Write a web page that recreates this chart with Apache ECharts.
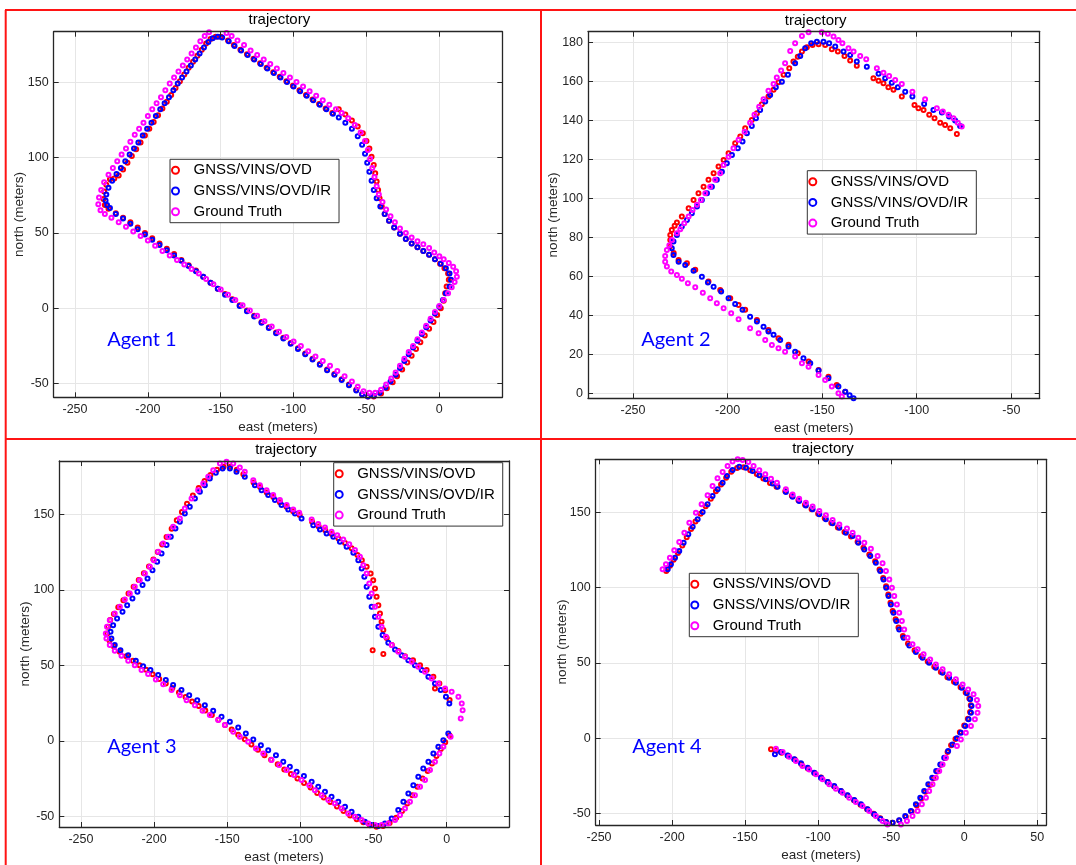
<!DOCTYPE html>
<html><head><meta charset="utf-8">
<script src="https://cdn.jsdelivr.net/npm/echarts@6/dist/echarts.min.js"></script>
<style>html,body{margin:0;padding:0;background:#fff}#c{width:1076px;height:865px}</style>
</head><body><div id="c"></div>
<script>
const seriesNames = ['GNSS/VINS/OVD', 'GNSS/VINS/OVD/IR', 'Ground Truth'];
const agentNames = ['Agent 1', 'Agent 2', 'Agent 3', 'Agent 4'];
const titleText = 'trajectory';
const xName = 'east (meters)';
const yName = 'north (meters)';

const xTicks1 = [-250, -200, -150, -100, -50, 0];
const yTicks1 = [-50, 0, 50, 100, 150];
const xTicks2 = [-250, -200, -150, -100, -50];
const yTicks2 = [0, 20, 40, 60, 80, 100, 120, 140, 160, 180];
const xTicks3 = [-250, -200, -150, -100, -50, 0];
const yTicks3 = [-50, 0, 50, 100, 150];
const xTicks4 = [-250, -200, -150, -100, -50, 0, 50];
const yTicks4 = [-50, 0, 50, 100, 150];

// ---------- Agent 1 ----------
const a1_ovd = [[-150,180],[-153.5,180],[-157,178.5],[-160,175.5],[-163,171.5],[-166,167.5],[-169,163.5],[-172,159.5],[-175,155],[-178,150.5],[-181,146],[-184,141.5],[-187,137],[-190,132.5],[-193,128],[-196,123.5],[-199,119],[-202,114.5],[-205,110],[-208,105.5],[-211,101],[-214,96.5],[-217,92],[-220,88],[-223,86],[-226,85.5],[-228.5,82],[-230,77.5],[-230.5,72.5],[-229.5,68.5],[-227,66],
[-222,63],[-217,60],[-212,57],[-207,53.5],[-202,50],[-197,46.5],[-192,43],[-187,39.5],[-182,36],[-177,32],[-172,28.5],[-167,25],[-162,21],[-157,17],[-152,13],[-147,9.5],[-142,6],[-137,2],[-132,-1.5],[-127,-5],[-122,-9],[-117,-12.5],[-112,-16],[-107,-19.5],[-102,-23],[-97,-26.5],[-92,-30],[-87,-33.5],[-82,-37],[-77,-40.5],[-72,-43.5],[-67,-47],[-62,-50.5],[-57,-54],[-53,-57],[-49,-58.5],[-45,-58.5],
[-40,-56.5],[-36,-53],[-32,-49],[-29,-45],[-25.5,-40.5],[-22,-36],[-19,-31.5],[-16,-27],[-13,-22.5],[-10,-18],[-7,-13.5],[-4,-9],[-1.5,-4.5],[1,0],[3,5],[4,10],[5,14.5],[6.5,19],[6,23],[3.5,26.5],[0.5,29.5],[-3,32.5],
[-7,35.5],[-11,38],[-15,40.5],[-19,43],[-23,46],[-27,49.5],[-31,53.5],[-34.5,58],[-37.5,62.5],[-39.5,67.5],[-41,73],[-42,78.5],[-43,84],[-44,89.5],[-45,95],[-46.5,100.5],[-48,106],[-50,111],[-52.5,116],[-56,120.5],[-60,124.5],[-64.5,128.5],[-69,132],
[-73.5,129.5],[-78,132.5],[-82.5,135.5],[-87,138.5],[-91.5,141.5],[-96,144.5],[-100.5,147.5],[-105,150.5],[-109.5,153.5],[-114,156.5],[-118.5,159.5],[-123,162.5],[-127.5,165.5],[-132,168.5],[-136.5,171.5],[-141,174.5],[-145,177.5]];
const a1_ir = [[-149,179.5],[-152,180],[-155.5,179],[-158.5,176.5],[-161.5,173],[-164.5,169],[-167.5,165],[-170.5,161],[-173.5,157],[-176.5,153],[-179.5,149],[-182.5,144.5],[-185.5,140],[-188.5,136],[-191.5,132],[-194.5,127.5],[-197.5,123],[-200.5,119],[-203.5,114.5],[-206.5,110],[-209.5,106],[-212.5,102],[-215.5,97.5],[-218.5,93],[-221.5,89],[-224.5,84.5],[-227,80],[-228.5,75.5],[-229,71.5],[-228,68.5],[-226,66.5],
[-222,62.5],[-217,59.5],[-212,56],[-207,52.5],[-202,49],[-197,45.5],[-192,42],[-187,38.5],[-182,35],[-177,31.5],[-172,28],[-167,24.5],[-162,21],[-157,17],[-152,13],[-147,9],[-142,5.5],[-137,1.5],[-132,-2],[-127,-5.5],[-122,-9.5],[-117,-13],[-112,-16.5],[-107,-20],[-102,-23.5],[-97,-27],[-92,-30.5],[-87,-34],[-82,-37.5],[-77,-41],[-72,-44],[-67,-47.5],[-62,-51],[-57,-54.5],[-53,-57],[-49,-58.5],[-45,-58],
[-41,-56],[-37,-52.5],[-33.5,-48.5],[-30,-44],[-27,-39.5],[-24,-35],[-21,-30.5],[-18,-26],[-15,-21.5],[-12,-17],[-9,-12.5],[-6,-8],[-3,-3.5],[0,1],[2.5,5.5],[4.5,10],[7,14.5],[8,19],[7,23],[4.5,26.5],[1,29.5],[-3,32.5],
[-7,35.5],[-11,38],[-15,40.5],[-19,43],[-23,46],[-27,49.5],[-31,53.5],[-34.5,58],[-37.5,62.5],[-40.5,67.5],[-43,73],[-45,78.5],[-46.5,84.5],[-48,90.5],[-49.5,96.5],[-51,102.5],[-53,108.5],[-56,114],[-60,119],[-64.5,123],[-69,126.5],
[-73,129],[-77.5,132],[-82,135],[-86.5,138],[-91,141],[-95.5,144],[-100,147],[-104.5,150],[-109,153],[-113.5,156],[-118,159],[-122.5,162],[-127,165],[-131.5,168],[-136,171],[-140.5,174],[-144.5,177]];
const a1_gt = [[-146,182.5],[-150,184],[-154,184.5],[-158,183],[-161,180.5],[-164,177],[-167,173],[-170,169],[-173,165],[-176,161],[-179,157],[-182,153],[-185,149],[-188,144.5],[-191,140],[-194,136],[-197,132],[-200,127.5],[-203,123],[-206,119],[-209,115],[-212,110.5],[-215,106],[-218,102],[-221,97.5],[-224,93],[-227,88.5],[-230,83.5],[-232,78.5],[-233.5,73.5],[-234,69],[-232.5,65],[-229.5,62.5],
[-225,60],[-220,57],[-215,54],[-210,51],[-205,48],[-200,45],[-195,41.5],[-190,38],[-185,35],[-180,32],[-175,29],[-170,26],[-165,23],[-160,19.5],[-155,16],[-150,12.5],[-145,9],[-140,5.5],[-135,2],[-130,-1.5],[-125,-5],[-120,-8.5],[-115,-12],[-110,-15.5],[-105,-19],[-100,-22],[-95,-25],[-90,-28.5],[-85,-32],[-80,-35],[-75,-38],[-70,-41.5],[-65,-45],[-60,-48.5],[-56,-52],[-52,-55],[-48,-56],[-44,-56],
[-40,-54],[-36.5,-50.5],[-33,-46.5],[-30,-42.5],[-27,-38],[-24,-33.5],[-21,-29],[-18,-25],[-15,-20.5],[-12,-16],[-9,-11.5],[-6,-7],[-3,-2.5],[0,1.5],[3,5.5],[6,10],[8.5,14],[10.5,17.5],[12,21],[11.5,24.5],[9.5,27.5],[6.5,30],[3,32.5],[0,34.5],
[-3.5,37],[-7,40],[-11,42.5],[-15,44.5],[-19,47],[-23,50],[-27,53],[-30.5,57],[-33.5,61],[-36.5,65.5],[-39,70.5],[-41.5,75.5],[-43,81],[-44.5,87],[-46,93],[-47.5,99],[-49,105],[-51,111],[-54,116.5],[-58,121.5],[-62.5,126],[-67,129.5],
[-71,132],[-75.5,135],[-80,138],[-84.5,141],[-89,144],[-93.5,147],[-98,150],[-102.5,153],[-107,156],[-111.5,159],[-116,162],[-120.5,165],[-125,168],[-129.5,171],[-134,174.5],[-138.5,177.5],[-142.5,180.5]];

// ---------- Agent 2 ----------
const a2_ovd = [[-137.8,1],[-142.3,4.4],[-146.7,8.7],[-151.9,12.1],[-157.2,16.4],[-162.9,20.7],[-167.8,25],[-173.1,28.3],[-178.4,32.6],[-184.5,37.7],[-190.7,42.9],[-194.2,45.4],[-198.6,48.8],[-203.9,53.1],[-210.1,57.4],[-217.1,63.4],[-221.5,66.8],[-225.9,68.5],[-228.5,72],[-230.5,75.3],[-230.3,78.7],[-230.3,81.3],[-229.5,83.8],[-228,86],[-226.8,87.6],
[-224.2,90.7],[-220.6,94.9],[-218,99.2],[-215.4,102.6],[-212.7,106],[-210.1,109.5],[-207.4,112.9],[-204.8,116.3],[-202.1,119.7],[-199.5,123.1],[-196,128.2],[-193.3,131.7],[-190.7,135.9],[-187.2,140.2],[-184.5,143.6],[-181.9,148.2],[-178.4,152.2],[-175.7,155.6],[-173.1,159.5],[-170.4,163.3],[-167.4,166.7],[-165.2,170.1],[-162.9,172.6],[-160.7,175.2],[-158.1,177.4],[-155.1,178.6],[-151.9,179],[-148.4,178.6],[-144.9,176.4],[-141.7,175.2],[-138.2,173],[-135.2,170.6],[-131.7,167.9],
[-122.9,161.5],[-120.2,160.3],[-117.6,159],[-115,156.9],[-112.3,155.6],[-107.9,152.2],
[-101.2,147.9],[-99.1,146.2],[-96.4,145.3],[-93.4,142.8],[-90.6,141.1],[-87.6,138.8],[-85,137.6],[-82.3,135.9],[-78.8,133]];
const a2_ir = [[-133.4,-2.4],[-135.5,-0.8],[-137.8,1],[-141.4,3.6],[-146.7,7.9],[-151.9,11.8],[-156.3,15.5],[-159.9,18.1],[-164.3,21.5],[-167.8,24.1],[-172.2,27.5],[-175.7,30.1],[-178.4,31.8],[-181,34.3],[-184.5,36.9],[-188.1,39.4],[-192.1,42.9],[-196,45.9],[-199.5,48.8],[-203.4,52.3],[-207.4,54.8],[-210.4,56.9],[-213.6,59.9],[-218,63],[-222.4,65.9],[-225.9,67.6],[-228.6,71],[-229.5,74.5],[-228.6,77.9],[-226.8,81.3],
[-224.2,85.6],[-221.5,89],[-218.9,92.4],[-216.2,95.8],[-213.6,99.2],[-210.9,102.6],[-208.3,106],[-205.7,109.5],[-203,113.7],[-200.4,118],[-197.7,122.3],[-194.6,125.7],[-192.1,129.1],[-189.8,133.4],[-187.2,137.1],[-185,141.1],[-182.8,145.3],[-180.1,149.6],[-177.5,153],[-174.5,156.9],[-171.3,159.8],[-168.1,163.3],[-164.3,169.2],[-161.6,173],[-159,176.9],[-155.8,179.5],[-152.8,180.3],[-149.3,180.3],[-146.3,179.5],[-143.1,177.8],[-138.7,175.2],[-135.2,173.5],[-131.7,170.1],[-126.4,167.5],
[-120.2,163.8],[-116.7,161.5],[-113.2,159.3],[-110,156.9],[-106.1,154.7],[-102.3,152.2],[-96.1,148.4],[-91.2,145.3],[-86.7,144],[-82.9,141.9],[-79.7,139.9],[-77.1,137.1]];
const a2_gt = [[-139.6,-1.5],[-141.4,0.2],[-144.9,3.6],[-148.4,7],[-151.9,9.6],[-157.2,13.8],[-160.7,15.5],[-164.3,19],[-169.6,21.5],[-173.1,23.2],[-176.6,24.9],[-180.1,27.5],[-183.6,30.9],[-188.1,33.5],[-194.2,38.1],[-198.1,41.2],[-202.1,43.7],[-205.7,46.3],[-209.2,48.8],[-213.1,51.7],[-217.1,54.5],[-221,56.5],[-224.2,58.9],[-226.8,60.8],[-229.8,62.5],[-232.1,65.1],[-233,67.6],[-233,70.5],[-232.1,73.6],[-230.8,76],
[-229.5,78.7],[-226.8,82.1],[-225,84.2],[-222.9,87.3],[-220.6,90.7],[-218.5,94.1],[-216.2,96.7],[-214.1,99.2],[-211.8,102.6],[-209.2,106],[-206.6,109.5],[-203.9,112.9],[-202.1,117.1],[-199.5,121.4],[-196.9,125.7],[-194.2,130],[-191,134.2],[-188.1,138.8],[-185.8,142.8],[-183.3,147],[-181,150.8],[-178.4,155.2],[-175.7,158.6],[-174,162],[-171.7,165.5],[-169.6,169.2],[-166.9,175.5],[-164.3,179.5],[-160.7,183.2],[-157.2,185.1],[-154.1,185.5],[-150.2,185.1],[-147,184.3],[-144,182.9],[-141.4,181.2],[-139.3,179.5],[-136.1,176.9],[-133.4,175.2],[-129.9,173],[-126.7,171.3],
[-121.1,166.7],[-117.6,164.4],[-114.6,162.7],[-111.4,160.7],[-107.9,158.6],[-102.3,154.7],[-95.6,150.8],[-89.4,146.2],[-86.2,144.5],[-83.2,142.8],[-80.6,141.1],[-78.3,138.8],[-76.2,136.8]];

// ---------- Agent 3 ----------
const a3_ovd = [[2,3.5],[-1,-1],[-4,-5.5],[-7,-10],[-10,-15],[-13,-20],[-16.5,-25],[-20,-30.5],[-23.5,-36],[-27,-41.5],[-30.5,-46.5],[-34.5,-51],[-39,-54.5],[-43.5,-56.5],[-48,-57],[-52.5,-56],[-57,-54],
[-61.5,-52],[-66,-49.5],[-70.5,-46.5],[-75,-43.5],[-79.5,-40.5],[-84,-37.5],[-88.5,-34.5],[-93,-31],[-97.5,-28],[-102,-25],[-106.5,-22],[-111,-19],[-115.5,-15.5],[-120,-12.5],[-124.5,-9.5],[-129,-6],[-133.5,-2.5],[-138,1],[-142.5,4],[-147,7.5],[-151.5,10.5],[-156,14],[-160.5,17],[-165,20],[-169.5,23],[-174,26],[-178.5,29],[-183,32],[-187.5,35],[-192,38],[-196.5,41],[-201,44],[-205.5,47],[-210,50],[-214.5,53],[-219,56],[-223.5,59],[-227.5,62.5],[-230.5,66.5],[-232,71],[-231.5,75.5],[-230,80],
[-227.5,84],[-224.5,88.5],[-221,93],[-217.5,97.5],[-214,102],[-210.5,106.5],[-207,111],[-203.5,115.5],[-200.5,120],[-197.5,125],[-194.5,130],[-191.5,135],[-188,140.5],[-184.5,146],[-181,151.5],[-177.5,157],[-173.5,162.5],[-169.5,167.5],[-165.5,172],[-161.5,176],[-157,179.5],[-152.5,181.5],[-148,181.5],[-143.5,179.5],[-139,176.5],
[-132,171],[-127.5,168],[-123,164.5],[-118.5,161.5],[-114,158],[-109.5,155],[-105,152],[-100.5,149.5],[-92,145],[-87.5,142],[-83,139.5],[-78.5,137],[-74,134],[-69.5,131],[-65,127.5],[-61,123],[-58,119.5],[-54.7,115.2],[-52,110.8],[-50.2,106.4],[-49,100.9],[-47.9,95.4],[-46.7,89.8],[-45.6,84.3],[-44.5,78.8],[-43.3,73.3],[-41,68],[-37.5,63.5],[-50.6,60],[-43.3,57.4],[-33,59.5],[-28.5,56],[-23,53.4],[-18.2,50.1],[-13.7,46.8],[-9.1,42.4],[-5,38],[-8,34.7],[-1,33.5],[2,27]];
const a3_ir = [[1.1,4.9],[-2.3,0.4],[-5.7,-4],[-9.1,-8.4],[-12.5,-13.9],[-16,-18.3],[-19.4,-23.8],[-22.8,-29.4],[-26.2,-34.9],[-29.6,-40.4],[-33.1,-45.9],[-37.6,-51.4],[-42.2,-54.7],[-46.7,-56.5],[-51.3,-55.8],[-55.9,-53.6],
[-60.4,-50.3],[-65,-47],[-69.5,-43.7],[-74.1,-40.4],[-78.7,-37.1],[-83.2,-33.8],[-87.8,-30.5],[-92.3,-27.2],[-97.6,-23.4],[-102.6,-20.5],[-107.2,-17.2],[-111.7,-13.9],[-116.7,-9.5],[-122,-6.2],[-127,-2.9],[-132.2,0.9],[-137.3,4.9],[-142.5,8.8],[-148.2,12.6],[-153.9,15.9],[-159.6,19.9],[-165.3,23.6],[-170.5,26.9],[-176,30.2],[-181.3,33.6],[-187,36.9],[-192,40.2],[-197.2,43.5],[-202.5,46.8],[-207.5,49.4],[-212.5,53],[-217.7,56.7],[-223,60],[-226.9,63.4],[-229.2,67.8],[-229.8,72.2],[-228,76.6],[-225.3,81],
[-221.6,85.4],[-218.4,89.8],[-214.8,94.3],[-211.4,98.7],[-207.9,103.1],[-204.5,107.5],[-201.1,113],[-197.9,118.5],[-194.9,124.1],[-191.5,129.6],[-188.6,135.1],[-185.4,140.6],[-182.4,145],[-179,150.6],[-175.6,155],[-172.1,160.5],[-168.7,164.9],[-165.3,169.3],[-161.9,173.7],[-157.8,177.5],[-153.2,180.4],[-148.2,180.4],[-143.7,178.1],[-138,174.8],
[-131.1,169.3],[-126.5,166],[-122,162.7],[-117.4,159.4],[-112.9,156.1],[-108.3,153.2],[-103.7,150.6],[-99.2,147.2],
[-91.2,142.8],[-86.6,140],[-82.1,137.3],[-77.5,135.1],[-73,131.8],[-68.4,128.5],[-63.8,124.5],[-60.4,119.6],[-58.1,114.1],[-56.3,108.6],[-54.7,102],[-52.9,95.4],[-51.3,88.7],[-49,82.1],[-46.7,75.5],[-43.8,70],[-39.9,64.9],[-35.3,60.5],[-30.8,56.7],[-26.2,53.4],[-21.7,50.1],[-17.1,46.8],[-12.5,42.4],[-8,38],[-4.1,33.6],[-0.5,29.1],[1.8,24.7]];
const a3_gt = [[2.7,2.6],[-2.3,-4],[-5,-8.4],[-8,-13.9],[-11.4,-19.4],[-14.8,-26],[-18.2,-30.5],[-21.7,-36],[-25.1,-40.4],[-28.5,-44.8],[-31.9,-49.2],[-35.3,-52.5],[-39.9,-54.7],[-44.5,-55.8],[-49,-55.8],[-53.6,-54.7],[-58.1,-52.5],[-62.7,-50.3],[-67.3,-48.1],[-71.8,-44.8],[-76.4,-41.5],[-80.9,-39.3],[-85.5,-36],[-90.1,-32.7],[-93.9,-29.4],[-99.2,-26],[-104.4,-22.7],[-109.4,-19.4],[-114.5,-16.1],[-119.7,-12.8],[-125.4,-8.4],[-130.4,-5.1],[-135.7,-0.7],[-141.4,2.6],[-145.9,6],[-151.6,10.4],[-156.2,13.7],[-161.9,17],[-166.9,19.9],[-172.1,23.6],[-177.8,26.9],[-182.4,30.2],[-188.1,33.6],[-193.8,37.5],[-198.8,40.6],[-204.1,44.2],[-208.6,46.8],[-213.2,50.1],[-217.7,53],[-222.3,56.3],[-226.9,59.6],[-230.3,63.4],[-232.6,67.8],[-233,71.1],[-232.2,75.5],[-230.3,79.9],[-226.9,84.3],
[-223.4,88.7],[-220,93.6],[-216.6,97.6],[-213.2,102],[-209.8,106.4],[-206.3,110.8],[-202.9,115.2],[-200.2,119.6],[-197.2,125.2],[-193.8,130.7],[-190.4,135.1],[-187,141.7],[-182.4,147.2],[-179,153.9],[-174.4,160.5],[-169.9,166],[-166.4,170.4],[-163,174.8],[-159.6,179.2],[-155,183.7],[-150.5,184.8],[-145.9,183.7],[-141.4,181],[-138,178.2],
[-132.2,172.6],[-127.7,169.3],[-123.1,166],[-118.6,162.7],[-114,159.4],[-109.4,156.1],[-104.9,153.2],[-100.8,151],
[-92.3,146.6],[-87.8,143.5],[-83.2,141.3],[-78.7,138.4],[-74.8,136.2],[-70.7,133.3],[-66.6,130.2],[-62.7,126.3],[-59.3,121.9],[-57,116.3],[-54.7,110.8],[-52.9,104.2],[-51.3,97.6],[-49,88.7],[-46.7,82.1],[-44.5,75.5],[-41.5,68.9],[-37.6,63.4],[-33.1,58.9],[-28.5,55.6],[-23.9,52.3],[-19.4,49],[-14.8,45.7],[-10.3,41.3],[-5.7,38],[-1.1,34.7],[3.4,32.5],[8,29.1],[10.3,24.7],[10.9,20.3],[9.6,14.8]];

// ---------- Agent 4 ----------
const a4_ovd = [[-204,111],[-201.5,114.5],[-199,118.5],[-196,123],[-193,128],[-190,133.5],[-187,139],[-184,144],[-180.5,149],[-177,154],[-173.5,159],[-170,164],[-166.5,168.5],[-163,173],[-159.5,177],[-155.5,179.5],[-151,180],[-146.5,178],[-142,175.5],[-137.5,172.5],[-133,169.5],[-128.5,167],
[-122.5,164],[-118,161],[-113.5,158],[-109,155],[-104.5,152],[-100,149],[-95.5,146],[-91,143],[-86.5,140],[-82,137],[-77.5,134],[-73,130.5],[-69,126.5],[-65,122],[-61,117.5],[-58,112],[-55.5,106.5],[-53.5,101],[-52,95.5],[-50.5,90],[-49,84.5],[-47,79],[-45,73.5],[-42,68],[-38.5,63],[-34,58.5],[-29.5,54.5],[-25,51],[-20.5,47.5],[-16,44],[-11.5,40.5],[-7,37.5],[-2.5,34],[1,30.5],[3.5,26.5],[4.5,22],[4,17.5],[2.5,13],[0,8.5],[-3,4],[-6,-0.5],[-9,-4.5],[-11.4,-9.1],
[-13,-13],[-16,-17.5],[-18.5,-22],[-21,-26.5],[-23.5,-31],[-26.5,-35.5],[-29.5,-40],[-32.5,-44.5],[-36,-48.5],[-40,-52],[-44.5,-54.5],[-49,-56],[-53.5,-55.5],[-57.5,-53],
[-62,-50],[-66.5,-47],[-71,-44],[-75.5,-41],[-80,-38],[-84.5,-35],[-89,-32],[-93.5,-29],[-98,-26],[-102.5,-23],[-107,-20],[-111.5,-17],[-116,-14],[-120.5,-11.5],[-125,-9.5],[-129,-8],[-132.3,-7.3]];
const a4_ir = [[-203,112.2],[-200.8,115.5],[-198,119.9],[-195.1,124.3],[-192.1,129.9],[-188.9,135.4],[-185.9,140.5],[-182.5,145.4],[-179.1,150.2],[-175.7,155.3],[-172.3,160.8],[-168.8,165.3],[-165.4,169.7],[-162.4,174.1],[-158.6,178.1],[-154,180.3],[-149.4,179.6],[-144.9,177.4],[-140.3,174.6],[-135.8,171.9],[-131.2,169.2],[-127.8,167],
[-122.1,163.5],[-117.5,160.4],[-113,157.5],[-108.4,154.6],[-103.8,152],[-99.2,148.7],[-94.7,145.4],[-90.1,142.7],[-85.5,139.8],[-81,136.5],[-76.4,134.3],[-72.5,129.9],[-68.4,125.4],[-64.3,121],[-60.5,116.6],[-57.5,111.1],[-55.2,105.5],[-53.4,100],[-51.8,94.5],[-50.2,88.9],[-48.4,83.4],[-46.5,77.9],[-44.5,72.3],[-41.5,66.8],[-37.6,61.7],[-33.1,57.3],[-28.5,53.5],[-24,50.2],[-19.4,46.9],[-14.8,43.6],[-10.3,40.3],[-5.7,36.9],[-1.6,33.6],[1.8,29.9],[4.1,25.9],[5,21.5],[4.6,17],[3,12.6],[0.7,8.2],[-2.3,3.8],[-5,0],[-8,-4],
[-11,-8.4],[-13.7,-12.8],[-16.4,-17.3],[-19.2,-21.7],[-21.9,-26.1],[-24.6,-30.5],[-27.4,-35],[-30.1,-39.4],[-33.1,-43.8],[-36.5,-48.2],[-40.4,-51.5],[-44.5,-54.4],[-49.1,-56],[-53.6,-55.5],[-57.5,-53.3],
[-61.6,-50.4],[-66.2,-47.1],[-70.7,-43.8],[-75.3,-40.9],[-79.9,-37.8],[-84.4,-35],[-89,-31.6],[-93.5,-29],[-98.1,-26.1],[-102.7,-22.8],[-107.2,-19.5],[-111.8,-16.6],[-116.4,-13.9],[-120.9,-11.3],[-125.5,-9.1],[-129.6,-10.6]];
const a4_gt = [[-206.5,112.2],[-204.2,115.5],[-201.5,119.9],[-198.5,124.8],[-195.1,130.3],[-191.6,136.5],[-188.2,143.1],[-183.7,149.8],[-179.8,155.3],[-175.7,161.3],[-172.3,167.5],[-168.9,172.6],[-165.4,176.8],[-162,180.8],[-158.6,183.8],[-155.1,185.2],[-151.7,184.7],[-147.8,183.4],[-144.2,180.8],[-140.3,177.9],[-136.2,175.2],[-132.3,172.3],[-128.2,169.7],
[-122.1,165.3],[-117.5,161.9],[-113,159],[-108.4,156.4],[-103.8,153.8],[-99.2,150.9],[-94.7,148],[-90.1,144.9],[-85.5,142],[-80.3,139.2],[-76.4,136.5],[-72.5,133.2],[-68.4,129.9],[-63.9,125.9],[-59.3,121],[-55.9,116.2],[-53.6,111.1],[-51.3,105.5],[-49.5,100],[-47.9,94.5],[-46.1,88.9],[-44.5,83.4],[-42.7,77.9],[-41.1,72.3],[-38.8,66.8],[-35.4,62.4],[-31.9,59.1],[-27.8,55.8],[-23.3,52.4],[-19.4,49.1],[-14.8,45.8],[-10.3,42.5],[-5.7,39.2],[-1.1,35.8],[2.7,32.5],[6.4,29.2],[8.7,25.4],[9.6,21.5],[9.1,17],[7.3,12.6],[4.6,8.2],[1.1,3.8],[-2.3,-0.7],[-5,-5.1],
[-12.5,-12.8],[-14.8,-17.3],[-17.1,-21.7],[-19.4,-26.1],[-21.7,-30.5],[-24,-35],[-26.2,-39.4],[-29,-43.8],[-31.9,-48.2],[-35.4,-51.5],[-39.2,-54.9],[-43.3,-57.1],[-47.9,-57.7],[-52.5,-57.1],[-55.9,-54.9],
[-60.5,-51.5],[-65,-48.2],[-69.6,-44.9],[-74.2,-42.3],[-78.7,-39.4],[-83.3,-36.1],[-87.8,-33.4],[-92.4,-30.5],[-97,-27.2],[-101.5,-23.9],[-106.1,-20.6],[-110.7,-18.4],[-115.2,-15],[-119.8,-12.2],[-124.3,-9.1],[-128.9,-6.9]];

// ---------- layout ----------
const colors = ['#ff0000', '#0000ff', '#ff00ff'];
const FONT = 'Liberation Sans, Arial, sans-serif';
const panels = [
  {grid:{left:53.7, top:31.7, width:448.6, height:365.6}, xr:[-264.6,43.2], yr:[-59,183.4], xt:xTicks1, yt:yTicks1,
   data:[a1_ovd,a1_ir,a1_gt], legend:{left:170, top:159.3}, title:[279.3,20], xn:[278,427.7], yn:[19,214.5], agent:[107.3,340]},
  {grid:{left:588, top:31.7, width:451.7, height:366.6}, xr:[-273.8,-35], yr:[-2.4,185.4], xt:xTicks2, yt:yTicks2,
   data:[a2_ovd,a2_ir,a2_gt], legend:{left:807.3, top:170.7}, title:[815.7,20.5], xn:[813.8,428.3], yn:[553.7,215], agent:[641.3,340]},
  {grid:{left:59.3, top:461, width:449.7, height:366}, xr:[-264.8,42.6], yr:[-57.1,185.3], xt:xTicks3, yt:yTicks3,
   data:[a3_ovd,a3_ir,a3_gt], legend:{left:333.7, top:462.7}, title:[286,450], xn:[284,857.7], yn:[25,644], agent:[107.3,747]},
  {grid:{left:595.7, top:459.3, width:450.6, height:365.7}, xr:[-252.3,56.2], yr:[-57.5,185.2], xt:xTicks4, yt:yTicks4,
   data:[a4_ovd,a4_ir,a4_gt], legend:{left:689.3, top:573.3}, title:[823,449], xn:[821,855.3], yn:[562,642], agent:[632.3,747]}
];

const axisLineStyle = {color:'#262626', width:1.3};
const grids = [], xAxes = [], yAxes = [], series = [], legends = [], graphics = [];
panels.forEach((p, k) => {
  grids.push(Object.assign({outerBoundsMode:'none', containLabel:false}, p.grid));
  const mkAxis = (pos, main, range, ticks, margin) => ({
    gridIndex:k, type:'value', position:pos, min:range[0], max:range[1], z:3,
    axisLine:{show:true, onZero:false, lineStyle:axisLineStyle},
    axisTick:{show:true, inside:true, length:5, customValues:ticks, lineStyle:{color:'#262626', width:1}},
    axisLabel:{show:main, customValues:ticks, margin:margin, color:'#262626', fontSize:12.5, fontFamily:FONT},
    splitLine:{show:false}
  });
  xAxes.push(mkAxis('bottom', true, p.xr, p.xt, 6), mkAxis('top', false, p.xr, p.xt, 6));
  yAxes.push(mkAxis('left', true, p.yr, p.yt, 5), mkAxis('right', false, p.yr, p.yt, 5));
  // grid lines, placed through the axes' own scales
  series.push({
    type:'scatter', name:'grid-' + k, xAxisIndex:2*k, yAxisIndex:2*k, data:[], silent:true, z:0,
    markLine:{z:0, silent:true, symbol:['none','none'], animation:false, label:{show:false}, emphasis:{disabled:true},
      lineStyle:{color:'#e6e6e6', width:1, type:'solid'},
      data: p.xt.map(v => ({xAxis:v})).concat(p.yt.map(v => ({yAxis:v})))}
  });
  p.data.forEach((d, s) => {
    series.push({
      type:'scatter', name:seriesNames[s], xAxisIndex:2*k, yAxisIndex:2*k, data:d, z:2,
      symbol:'circle', symbolSize:4, silent:true,
      itemStyle:{color:'rgba(255,255,255,0)', borderColor:colors[s], borderWidth:2, opacity:1},
      emphasis:{disabled:true}
    });
  });
  legends.push({
    show:true, z:10, orient:'vertical', left:p.legend.left, top:p.legend.top, padding:[3,8,3,1], itemGap:4.7,
    itemWidth:26, itemHeight:7, backgroundColor:'#ffffff', borderColor:'#333333', borderWidth:1, borderRadius:0,
    selectedMode:false, textStyle:{fontSize:15, fontFamily:FONT, color:'#000', lineHeight:16},
    data: seriesNames.map((n, s) => ({name:n, icon:'circle', itemStyle:{color:'#ffffff', borderColor:colors[s], borderWidth:2}}))
  });
  graphics.push({type:'text', x:p.title[0], y:p.title[1], style:{text:titleText, fontSize:15, fontFamily:FONT, fill:'#000', align:'center', verticalAlign:'middle'}});
  graphics.push({type:'text', x:p.xn[0], y:p.xn[1], style:{text:xName, fontSize:13.5, fontFamily:FONT, fill:'#262626', align:'center', verticalAlign:'middle'}});
  graphics.push({type:'text', x:p.yn[0], y:p.yn[1], rotation:Math.PI/2, style:{text:yName, fontSize:13.5, fontFamily:FONT, fill:'#262626', align:'center', verticalAlign:'middle'}});
  graphics.push({type:'text', x:p.agent[0], y:p.agent[1], z:100, style:{text:agentNames[k], fontSize:20, fontFamily:'Lato, Open Sans, sans-serif', fill:'#0000ff', align:'left', verticalAlign:'middle'}});
});
// red panel frame lines
const redLine = (x1,y1,x2,y2) => ({type:'line', z:200, shape:{x1,y1,x2,y2}, style:{stroke:'#ff1414', lineWidth:2}});
graphics.push(redLine(5,10,1076,10), redLine(5.7,10,5.7,865), redLine(541,10,541,865), redLine(5,439,1076,439));

const chart = echarts.init(document.getElementById('c'), null, {renderer:'canvas'});
chart.setOption({
  animation:false, backgroundColor:'#ffffff',
  grid:grids, xAxis:xAxes, yAxis:yAxes, series:series, legend:legends, graphic:graphics
});
</script></body></html>
